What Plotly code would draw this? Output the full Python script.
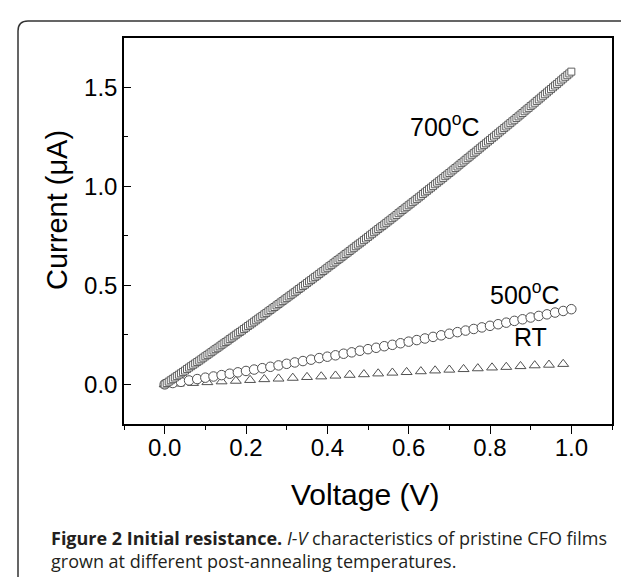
import plotly.graph_objects as go

# ---------------- data ----------------
v_700 = [round(i * 0.005, 3) for i in range(201)]
i_700 = [0.000, 0.007, 0.014, 0.021, 0.028, 0.035, 0.042, 0.049, 0.056, 0.063,
         0.070, 0.078, 0.085, 0.092, 0.099, 0.106, 0.113, 0.120, 0.127, 0.135,
         0.142, 0.149, 0.156, 0.163, 0.171, 0.178, 0.185, 0.192, 0.200, 0.207,
         0.214, 0.221, 0.229, 0.236, 0.243, 0.251, 0.258, 0.265, 0.272, 0.280,
         0.287, 0.295, 0.302, 0.309, 0.317, 0.324, 0.332, 0.339, 0.346, 0.354,
         0.361, 0.369, 0.376, 0.384, 0.391, 0.399, 0.406, 0.414, 0.421, 0.429,
         0.436, 0.444, 0.451, 0.459, 0.466, 0.474, 0.482, 0.489, 0.497, 0.504,
         0.512, 0.520, 0.527, 0.535, 0.543, 0.550, 0.558, 0.566, 0.573, 0.581,
         0.589, 0.597, 0.604, 0.612, 0.620, 0.628, 0.635, 0.643, 0.651, 0.659,
         0.666, 0.674, 0.682, 0.690, 0.698, 0.706, 0.713, 0.721, 0.729, 0.737,
         0.745, 0.753, 0.761, 0.769, 0.777, 0.785, 0.793, 0.800, 0.808, 0.816,
         0.824, 0.832, 0.840, 0.848, 0.856, 0.865, 0.873, 0.881, 0.889, 0.897,
         0.905, 0.913, 0.921, 0.929, 0.937, 0.945, 0.953, 0.962, 0.970, 0.978,
         0.986, 0.994, 1.002, 1.011, 1.019, 1.027, 1.035, 1.043, 1.052, 1.060,
         1.068, 1.076, 1.085, 1.093, 1.101, 1.110, 1.118, 1.126, 1.135, 1.143,
         1.151, 1.160, 1.168, 1.176, 1.185, 1.193, 1.202, 1.210, 1.218, 1.227,
         1.235, 1.244, 1.252, 1.261, 1.269, 1.278, 1.286, 1.295, 1.303, 1.312,
         1.320, 1.329, 1.337, 1.346, 1.354, 1.363, 1.371, 1.380, 1.389, 1.397,
         1.406, 1.414, 1.423, 1.432, 1.440, 1.449, 1.458, 1.466, 1.475, 1.484,
         1.492, 1.501, 1.510, 1.518, 1.527, 1.536, 1.545, 1.554, 1.562, 1.571,
         1.580]

v_500 = [round(i * 0.02, 2) for i in range(51)]
i_500 = [0.000, 0.007, 0.013, 0.020, 0.027, 0.034, 0.040, 0.047, 0.054, 0.061,
         0.068, 0.075, 0.082, 0.089, 0.096, 0.104, 0.111, 0.118, 0.125, 0.133,
         0.140, 0.147, 0.155, 0.162, 0.170, 0.178, 0.185, 0.193, 0.200, 0.208,
         0.216, 0.224, 0.232, 0.240, 0.248, 0.256, 0.264, 0.272, 0.280, 0.288,
         0.296, 0.304, 0.312, 0.321, 0.329, 0.338, 0.346, 0.354, 0.363, 0.371,
         0.380]

v_rt = [0.0, 0.035, 0.07, 0.105, 0.14, 0.175, 0.21, 0.245, 0.28, 0.315,
        0.35, 0.385, 0.42, 0.455, 0.49, 0.525, 0.56, 0.595, 0.63, 0.665,
        0.70, 0.735, 0.77, 0.805, 0.84, 0.875, 0.91, 0.945, 0.98]
i_rt = [0.000, 0.004, 0.007, 0.011, 0.015, 0.018, 0.022, 0.026, 0.029, 0.033,
        0.037, 0.040, 0.044, 0.048, 0.051, 0.055, 0.059, 0.062, 0.066, 0.070,
        0.074, 0.077, 0.081, 0.085, 0.088, 0.092, 0.096, 0.099, 0.103]

labels = ["700<sup>o</sup>C", "500<sup>o</sup>C", "RT"]
label_pos = [(0.69, 1.31), (0.885, 0.46), (0.90, 0.24)]

x_title = "Voltage (V)"
y_title = "Current (μA)"
caption = ("<b>Figure 2 Initial resistance.</b> <i>I-V</i> characteristics of pristine CFO films"
           "<br>grown at different post-annealing temperatures.")

# ---------------- figure ----------------
W, H = 629, 577
L, R, T, B = 116, 25, 30, 161
pw, ph = W - L - R, H - T - B

def px(xp):
    return (xp - L) / pw

def py(yp):
    return (H - B - yp) / ph

AX_FONT = "Liberation Sans, Arial, sans-serif"
edge = "#505050"

fig = go.Figure()
fig.add_trace(go.Scatter(x=v_rt, y=i_rt, mode="markers",
                         marker=dict(symbol="triangle-up", size=9.5, color="white",
                                     line=dict(color=edge, width=1)), showlegend=False))
fig.add_trace(go.Scatter(x=v_500, y=i_500, mode="markers",
                         marker=dict(symbol="circle", size=9.5, color="white",
                                     line=dict(color=edge, width=1)), showlegend=False))
fig.add_trace(go.Scatter(x=v_700, y=i_700, mode="markers",
                         marker=dict(symbol="square", size=7, color="white",
                                     line=dict(color=edge, width=0.9)), showlegend=False))

for txt, (xv, yv) in zip(labels, label_pos):
    fig.add_annotation(x=xv, y=yv, xref="x", yref="y", text=txt, showarrow=False,
                       xanchor="center", yanchor="middle",
                       font=dict(family=AX_FONT, size=25, color="black"))

fig.add_annotation(x=px(357), y=py(486), xref="paper", yref="paper", text=x_title,
                   xanchor="center", yanchor="middle", showarrow=False,
                   font=dict(family=AX_FONT, size=30, color="black"))
fig.add_annotation(x=px(49), y=py(202), xref="paper", yref="paper", text=y_title,
                   xanchor="center", yanchor="middle", textangle=-90, showarrow=False,
                   font=dict(family=AX_FONT, size=29, color="black"))
fig.add_annotation(x=px(41), y=py(541), xref="paper", yref="paper", text=caption,
                   xanchor="left", yanchor="middle", align="left", showarrow=False,
                   font=dict(family="Open Sans, Noto Sans, sans-serif", size=18, color="#231f20"))

# rounded outer frame (open at the bottom)
xl, xr = px(10), px(627.5)
yt, yb = py(13), py(590)
dx, dy = 10 / pw, 10 / ph
frame = (f"M {xl},{yb} L {xl},{yt - dy} Q {xl},{yt} {xl + dx},{yt} "
         f"L {xr - dx},{yt} Q {xr},{yt} {xr},{yt - dy} L {xr},{yb}")
fig.add_shape(type="path", path=frame, xref="paper", yref="paper",
              line=dict(color="#333333", width=1.5))

fig.update_xaxes(range=[-0.1, 1.1], dtick=0.2, tick0=0, tickformat=".1f",
                 ticks="outside", ticklen=8, tickwidth=1.2, tickcolor="black",
                 ticklabelstandoff=-7,
                 showline=True, linecolor="black", linewidth=1.5, mirror=True,
                 showgrid=False, zeroline=False,
                 tickfont=dict(family=AX_FONT, size=24, color="black"),
                 minor=dict(ticks="outside", ticklen=4, dtick=0.1, tick0=0,
                            tickcolor="black", tickwidth=1.2))
fig.update_yaxes(range=[-0.2, 1.75], dtick=0.5, tick0=0, tickformat=".1f",
                 ticks="inside", ticklen=7, tickwidth=1.2, tickcolor="black",
                 showline=True, linecolor="black", linewidth=1.5, mirror=True,
                 showgrid=False, zeroline=False,
                 tickfont=dict(family=AX_FONT, size=24, color="black"),
                 minor=dict(ticks="inside", ticklen=4, dtick=0.25, tick0=0,
                            tickcolor="black", tickwidth=1.2))

fig.update_layout(width=W, height=H, margin=dict(l=L, r=R, t=T, b=B),
                  paper_bgcolor="white", plot_bgcolor="white")

fig.write_html("out.html")
